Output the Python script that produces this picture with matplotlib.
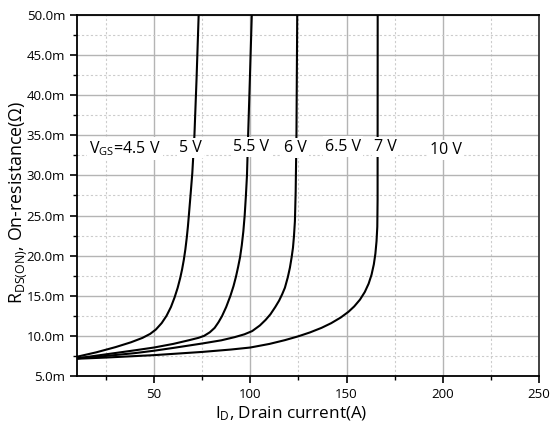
import matplotlib
matplotlib.use("Agg")
import matplotlib.pyplot as plt
from matplotlib.ticker import MultipleLocator, FuncFormatter

plt.rcParams['font.family'] = ['Open Sans', 'DejaVu Sans']
plt.rcParams['mathtext.default'] = 'regular'

# Drain current (A) and on-resistance (mOhm)
c1_I = [10, 20, 30, 38, 44, 48, 51, 54, 56.5, 58.8, 60.7, 62.3, 63.6, 64.6, 65.5, 66.3, 67.0, 67.6, 68.1, 69.0, 69.9, 71.0, 72.1, 73.2]
c1_R = [7.4, 7.95, 8.6, 9.2, 9.75, 10.25, 10.8, 11.6, 12.5, 13.6, 14.8, 16.0, 17.2, 18.3, 19.5, 20.8, 22.2, 23.6, 25.0, 27.6, 30.3, 35, 42, 50]

c2_I = [10, 25, 40, 50, 60, 68, 73, 76, 79, 81.5, 83.5, 85.3, 87.5, 89.7, 91.3, 92.6, 93.7, 94.7, 95.6, 96.4, 97.1, 97.7, 98.3, 98.9, 99.8, 100.8]
c2_R = [7.2, 7.7, 8.2, 8.55, 9.0, 9.45, 9.75, 10.0, 10.45, 11.0, 11.7, 12.45, 13.6, 15.0, 16.2, 17.4, 18.6, 19.8, 21.3, 23.0, 25.0, 27.3, 30, 35, 42, 50]

c3_I = [10, 25, 40, 50, 60, 75, 85, 92, 97, 101, 105, 108, 110.5, 113, 115, 116.6, 118, 119.5, 120.6, 121.5, 122.2, 122.7, 123.2, 123.6, 124, 124.4]
c3_R = [7.2, 7.5, 7.85, 8.15, 8.5, 9.05, 9.45, 9.85, 10.2, 10.6, 11.3, 12.0, 12.7, 13.6, 14.4, 15.2, 16.0, 17.3, 18.5, 19.8, 21.0, 22.4, 24.3, 28, 35, 50]

c4_I = [10, 25, 50, 75, 90, 100, 110, 118, 125, 131, 137, 142, 147, 151, 154, 157, 159.5, 161.5, 163, 164.2, 165, 165.6, 166, 166.15, 166.2]
c4_R = [7.15, 7.3, 7.6, 8.0, 8.3, 8.55, 9.0, 9.47, 9.95, 10.43, 11.0, 11.58, 12.29, 13.0, 13.67, 14.52, 15.47, 16.51, 17.62, 18.92, 20.24, 21.8, 23.6, 27, 50]

curves = [(c1_I, c1_R), (c2_I, c2_R), (c3_I, c3_R), (c4_I, c4_R)]

labels = ["V$_{GS}$=4.5 V", "5 V", "5.5 V", "6 V", "6.5 V", "7 V", "10 V"]
label_x = [35, 68.9, 100.6, 123.5, 148, 170, 201.7]
label_y = [33.4, 33.4, 33.5, 33.4, 33.6, 33.5, 33.2]

x_ticks = [50, 100, 150, 200, 250]
y_ticks = [5, 10, 15, 20, 25, 30, 35, 40, 45, 50]

fig = plt.figure(figsize=(5.5, 4.32), dpi=100)
ax = fig.add_axes([77/550, 1-376/432, (539-77)/550, (376-15)/432])

for I, R in curves:
    ax.plot(I, R, color='black', lw=1.5, zorder=3, solid_joinstyle='round')

for t, x, y in zip(labels, label_x, label_y):
    ax.text(x, y, t, ha='center', va='center', fontsize=11.5, zorder=5,
            bbox=dict(facecolor='white', edgecolor='none', pad=1.5))

ax.set_xlim(10, 250)
ax.set_ylim(5, 50)
ax.set_xticks(x_ticks)
ax.set_yticks(y_ticks)
ax.xaxis.set_minor_locator(MultipleLocator(25))
ax.yaxis.set_minor_locator(MultipleLocator(2.5))
ax.yaxis.set_major_formatter(FuncFormatter(lambda v, p: f"{v:.1f}m"))

ax.grid(which='major', color='#b4b4b4', lw=1.0, ls='-', zorder=0)
ax.grid(which='minor', color='#cccccc', lw=0.8, ls=(0, (2, 2)), zorder=0)
ax.set_axisbelow(True)

ax.tick_params(which='major', direction='out', length=5, width=1.2, labelsize=9.5, top=False, right=False)
ax.tick_params(which='minor', direction='out', length=3, width=1.0, top=False, right=False)
for s in ax.spines.values():
    s.set_linewidth(1.3)
ax.spines['right'].set_color('#333333')

ax.set_xlabel("I$_{D}$, Drain current(A)", fontsize=12.3)
ax.set_ylabel("R$_{DS(ON)}$, On-resistance(Ω)", fontsize=12.8)
ax.xaxis.set_label_coords(0.463, -0.078)
ax.yaxis.set_label_coords(-0.104, 0.482)

fig.savefig("out.png", dpi=100)
